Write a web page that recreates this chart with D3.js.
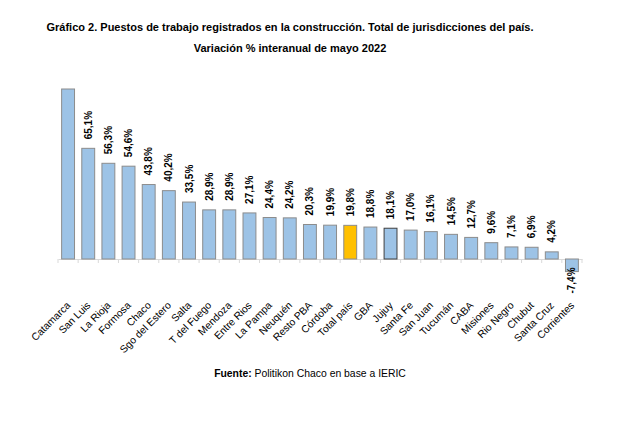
<!DOCTYPE html>
<html><head><meta charset="utf-8">
<script src="https://cdn.jsdelivr.net/npm/d3@7"></script>
<style>body{margin:0;background:#fff}svg{display:block;font-family:"Liberation Sans",Arial,sans-serif}</style>
</head><body><svg id="c" width="643" height="421"></svg>
<script>
const categories = ["Catamarca","San Luis","La Rioja","Formosa","Chaco","Sgo del Estero","Salta","T del Fuego","Mendoza","Entre Rios","La Pampa","Neuquén","Resto PBA","Córdoba","Total país","GBA","Jujuy","Santa Fe","San Juan","Tucumán","CABA","Misiones","Rio Negro","Chubut","Santa Cruz","Corrientes"];
const values = [100,65.1,56.3,54.6,43.8,40.2,33.5,28.9,28.9,27.1,24.4,24.2,20.3,19.9,19.8,18.8,18.1,17.0,16.1,14.5,12.7,9.6,7.1,6.9,4.2,-7.4];
const highlight = "Total país";
const darkBorder = "Jujuy";
const yDomain = [-10, 100];

const svg = d3.select("#c");
const x = d3.scaleBand().domain(categories).range([58, 582]).padding(0);
const y = d3.scaleLinear().domain(yDomain).range([276, 89]);
const bw = x.step() * 0.64;
const data = categories.map((c, i) => ({c, v: values[i]}));

svg.append("text").attr("x", 290).attr("y", 31).attr("text-anchor", "middle")
  .attr("font-size", 11).attr("font-weight", "bold")
  .text("Gráfico 2. Puestos de trabajo registrados en la construcción. Total de jurisdicciones del país.");
svg.append("text").attr("x", 290).attr("y", 52).attr("text-anchor", "middle")
  .attr("font-size", 11).attr("font-weight", "bold")
  .text("Variación % interanual de mayo 2022");

const ax = svg.append("g").attr("transform", `translate(0,${y(0)})`)
  .call(d3.axisBottom(x).tickSize(0).tickFormat(""));
ax.select(".domain").attr("stroke", "#d9d9d9");
const bounds = categories.map(c => x(c)).concat([x.range()[1]]);
svg.append("g").selectAll("line").data(bounds).join("line")
  .attr("x1", d => d).attr("x2", d => d).attr("y1", y(0)).attr("y2", y(0) + 4)
  .attr("stroke", "#d9d9d9");

svg.append("g").selectAll("rect").data(data).join("rect")
  .attr("x", d => x(d.c) + (x.step() - bw) / 2)
  .attr("y", d => y(Math.max(0, Math.min(d.v, yDomain[1]))))
  .attr("width", bw)
  .attr("height", d => Math.abs(y(Math.min(d.v, yDomain[1])) - y(0)))
  .attr("fill", d => d.c === highlight ? "#ffc000" : "#9dc3e6")
  .attr("stroke", d => d.c === darkBorder ? "#404040" : "#8c8c8c")
  .attr("stroke-width", 1);

svg.append("g").selectAll("text").data(data.filter(d => d.v < yDomain[1])).join("text")
  .attr("transform", d => {
    const cx = x(d.c) + x.step() / 2;
    const yy = d.v >= 0 ? y(d.v) - 9 : y(d.v) + 22;
    return `translate(${cx},${yy}) rotate(-90)`;
  })
  .attr("dy", "0.35em")
  .attr("font-size", 10).attr("font-weight", "bold").attr("fill", "#000")
  .text(d => d.v.toFixed(1).replace(".", ",") + "%");

svg.append("g").selectAll("text").data(categories).join("text")
  .attr("transform", c => `translate(${x(c) + x.step() / 2 + 3},${306}) rotate(-45)`)
  .attr("text-anchor", "end")
  .attr("font-size", 10.3).attr("fill", "#000")
  .text(c => c);

const src = svg.append("text").attr("x", 310).attr("y", 377).attr("text-anchor", "middle").attr("font-size", 10.4);
src.append("tspan").attr("font-weight", "bold").text("Fuente:");
src.append("tspan").text(" Politikon Chaco en base a IERIC");
</script></body></html>
